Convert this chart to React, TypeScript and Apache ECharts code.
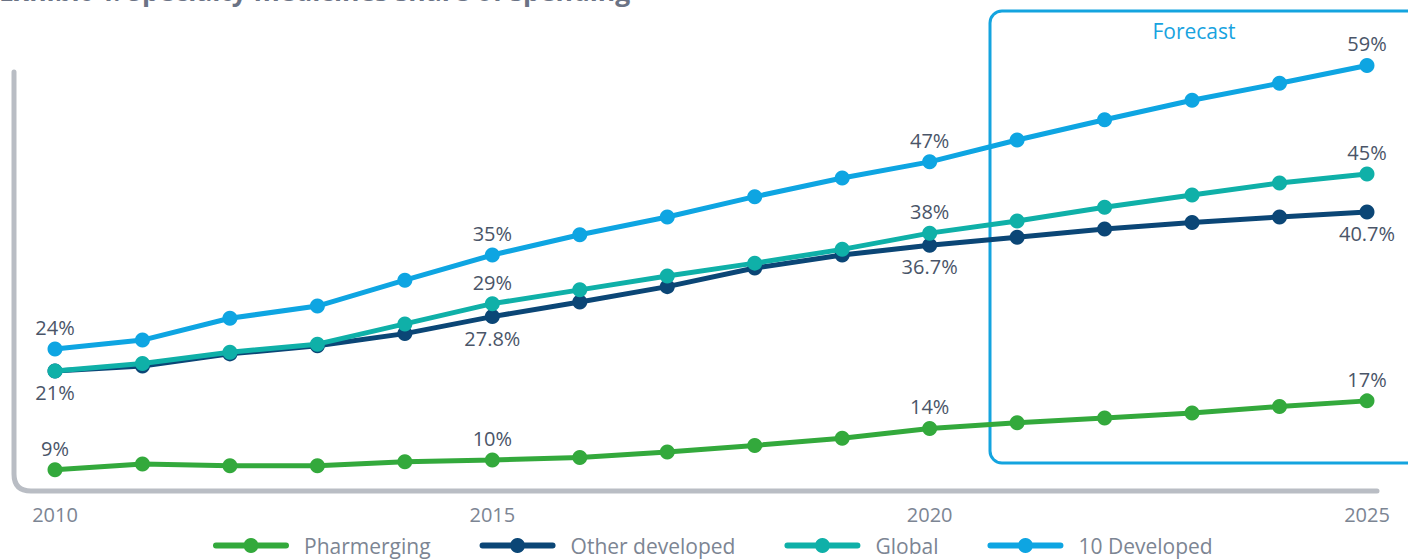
import React, { useEffect, useRef } from "react";
import * as echarts from "echarts";

const years = ["2010","2011","2012","2013","2014","2015","2016","2017","2018","2019","2020","2021","2022","2023","2024","2025"];

const pharmerging = [9.0, 9.7, 9.5, 9.5, 10.0, 10.2, 10.5, 11.2, 12.0, 12.9, 14.1, 14.8, 15.4, 16.0, 16.8, 17.5];
const otherDeveloped = [21.2, 21.8, 23.3, 24.3, 25.8, 27.9, 29.7, 31.6, 33.9, 35.5, 36.7, 37.7, 38.7, 39.5, 40.2, 40.8];
const globalShare = [21.2, 22.1, 23.5, 24.5, 27.0, 29.5, 31.2, 32.9, 34.5, 36.2, 38.2, 39.7, 41.4, 42.9, 44.4, 45.5];
const tenDeveloped = [23.9, 25.0, 27.7, 29.2, 32.4, 35.5, 38.0, 40.2, 42.7, 45.0, 47.0, 49.7, 52.2, 54.6, 56.7, 58.9];

const pharmergingLabels = ["9%", "", "", "", "", "10%", "", "", "", "", "14%", "", "", "", "", "17%"];
const otherDevelopedLabels = ["21%", "", "", "", "", "27.8%", "", "", "", "", "36.7%", "", "", "", "", "40.7%"];
const globalLabels = ["", "", "", "", "", "29%", "", "", "", "", "38%", "", "", "", "", "45%"];
const tenDevelopedLabels = ["24%", "", "", "", "", "35%", "", "", "", "", "47%", "", "", "", "", "59%"];

const seriesNames = ["Pharmerging", "Other developed", "Global", "10 Developed"];
const colors = ["#33a93c", "#0b4676", "#0fb0a8", "#0ea5e2"];

const FONT = "'Open Sans', 'Noto Sans', sans-serif";

const LEGEND_ICON =
  "path://M3 4.5 H73 A3 3 0 0 1 73 10.5 H3 A3 3 0 0 1 3 4.5 Z M38 0 A7.5 7.5 0 1 1 37.99 0 Z";

let shapeRegistered = false;

export default function App() {
  const ref = useRef<HTMLDivElement>(null);

  useEffect(() => {
    if (!ref.current) return;
    if (!shapeRegistered) {
      echarts.graphic.registerShape(
        "axisFrame",
        echarts.graphic.extendPath("M14 72 L14 474 Q14 491 31 491 L1377 491", {})
      );
      shapeRegistered = true;
    }
    const chart = echarts.init(ref.current, null, { renderer: "svg" });

    const mk = (idx: number, data: number[], labels: string[], pos: "top" | "bottom", z: number) => ({
      name: seriesNames[idx],
      type: "line",
      data,
      z,
      symbol: "circle",
      symbolSize: 15,
      lineStyle: { width: 5, color: colors[idx] },
      itemStyle: { color: colors[idx] },
      label: {
        show: true,
        position: pos,
        distance: 4,
        fontFamily: FONT,
        fontSize: 20,
        color: "#4a5568",
        formatter: (p: any) => labels[p.dataIndex],
      },
    });

    chart.setOption({
      animation: false,
      textStyle: { fontFamily: FONT },
      grid: { left: 55, right: 41, top: 16, bottom: 70, containLabel: false },
      xAxis: {
        type: "category",
        data: years,
        boundaryGap: false,
        axisLine: { show: false },
        axisTick: { show: false },
        axisLabel: {
          interval: 4,
          margin: 14,
          fontFamily: FONT,
          fontSize: 20,
          color: "#7c8593",
        },
      },
      yAxis: { type: "value", min: 6.5, max: 65, show: false },
      legend: {
        left: 213,
        top: 535,
        padding: 0,
        itemWidth: 76,
        itemHeight: 15,
        itemGap: 49,
        icon: LEGEND_ICON,
        data: seriesNames,
        textStyle: {
          fontFamily: FONT,
          fontSize: 21,
          lineHeight: 21,
          color: "#7c8593",
          padding: [0, 0, 0, 10],
        },
      },
      graphic: [
        {
          type: "axisFrame",
          x: 0,
          y: 0,
          silent: true,
          style: { fill: "none", stroke: "#b9bdc4", lineWidth: 5, lineCap: "round" },
        },
        {
          type: "rect",
          silent: true,
          shape: { x: 990, y: 11, width: 500, height: 452, r: 12 },
          style: { fill: "none", stroke: "#14a4df", lineWidth: 3 },
        },
        {
          type: "text",
          x: 1194,
          y: 31,
          style: {
            text: "Forecast",
            fill: "#18a3df",
            font: "21px 'Open Sans', sans-serif",
            textAlign: "center",
            textVerticalAlign: "middle",
          },
        },
        {
          type: "text",
          x: -1,
          y: 4,
          style: {
            text: "Exhibit 4: Specialty medicines share of spending",
            fill: "#6b7385",
            font: "bold 26.5px 'Open Sans', sans-serif",
            textAlign: "left",
            textVerticalAlign: "bottom",
          },
        },
      ],
      series: [
        mk(0, pharmerging, pharmergingLabels, "top", 4),
        mk(1, otherDeveloped, otherDevelopedLabels, "bottom", 3),
        mk(2, globalShare, globalLabels, "top", 5),
        mk(3, tenDeveloped, tenDevelopedLabels, "top", 6),
      ],
    });

    return () => chart.dispose();
  }, []);

  return (
    <div
      ref={ref}
      style={{ position: "absolute", left: 0, top: 0, width: 1408, height: 560, background: "#ffffff" }}
    />
  );
}
